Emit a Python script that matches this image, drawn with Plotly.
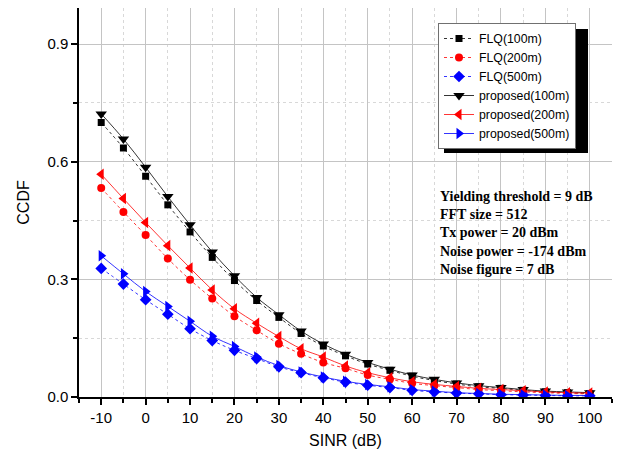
import plotly.graph_objects as go

sinr = [-10, -5, 0, 5, 10, 15, 20, 25, 30, 35, 40, 45, 50, 55, 60, 65, 70, 75, 80, 85, 90, 95, 100]

flq_100 = [0.700, 0.635, 0.563, 0.490, 0.421, 0.356, 0.297, 0.246, 0.203, 0.162, 0.130, 0.105,
           0.084, 0.068, 0.053, 0.042, 0.033, 0.026, 0.022, 0.017, 0.013, 0.011, 0.009]
flq_200 = [0.533, 0.472, 0.413, 0.353, 0.299, 0.251, 0.206, 0.170, 0.136, 0.110, 0.088, 0.073,
           0.056, 0.045, 0.035, 0.029, 0.024, 0.019, 0.016, 0.013, 0.011, 0.009, 0.008]
flq_500 = [0.328, 0.288, 0.248, 0.211, 0.174, 0.144, 0.119, 0.098, 0.077, 0.062, 0.049, 0.038,
           0.030, 0.024, 0.017, 0.013, 0.010, 0.008, 0.006, 0.005, 0.004, 0.003, 0.003]
prop_100 = [0.722, 0.658, 0.586, 0.511, 0.439, 0.370, 0.309, 0.254, 0.210, 0.168, 0.135, 0.109,
            0.088, 0.071, 0.056, 0.045, 0.036, 0.029, 0.024, 0.019, 0.015, 0.013, 0.011]
prop_200 = [0.568, 0.506, 0.445, 0.386, 0.329, 0.273, 0.225, 0.188, 0.154, 0.123, 0.102, 0.079,
            0.062, 0.049, 0.039, 0.032, 0.027, 0.022, 0.019, 0.016, 0.013, 0.011, 0.010]
prop_500 = [0.360, 0.314, 0.269, 0.231, 0.193, 0.155, 0.129, 0.102, 0.080, 0.064, 0.051, 0.040,
            0.032, 0.026, 0.019, 0.015, 0.011, 0.009, 0.007, 0.006, 0.005, 0.004, 0.004]

x_ticks = [-10, 0, 10, 20, 30, 40, 50, 60, 70, 80, 90, 100]
y_ticks = [0.0, 0.3, 0.6, 0.9]

notes = ["Yielding threshold = 9 dB", "FFT size = 512", "Tx power = 20 dBm",
         "Noise power = -174 dBm", "Noise figure = 7 dB"]

series = [
    ("FLQ(100m)", flq_100, "black", "square", 7, "dot"),
    ("FLQ(200m)", flq_200, "#ff0000", "circle", 8, "dot"),
    ("FLQ(500m)", flq_500, "#0000ff", "diamond", 9, "dot"),
    ("proposed(100m)", prop_100, "black", "triangle-down", 10, "solid"),
    ("proposed(200m)", prop_200, "#ff0000", "triangle-left", 10, "solid"),
    ("proposed(500m)", prop_500, "#0000ff", "triangle-right", 10, "solid"),
]

# figure geometry (page is offset 8px by the body margin)
W, H = 613, 453
ML, MR, MT, MB = 71, 9, 0, 64
PW, PH = W - ML - MR, H - MT - MB


def px(xp):  # page x -> paper x
    return (xp - 8 - ML) / PW


def py(yp):  # page y -> paper y
    return 1 - (yp - 8 - MT) / PH


fig = go.Figure()
for name, vals, col, sym, sz, dash in series:
    fig.add_trace(go.Scatter(
        x=sinr, y=vals, name=name, mode="lines+markers",
        line=dict(color=col, width=0.8, dash=dash, shape="spline"),
        marker=dict(symbol=sym, size=sz, color=col),
    ))

fig.add_annotation(
    x=px(438), y=py(187), xref="paper", yref="paper", xanchor="left", yanchor="top",
    text="<br>".join(f"<b>{t}</b>" for t in notes), showarrow=False, align="left",
    font=dict(family="Liberation Serif", size=14, color="black"),
)

# legend shadow
LX0, LY0, LW, LH = 438, 23, 144, 124
fig.add_shape(type="rect", xref="paper", yref="paper",
              x0=px(LX0 + 6), x1=px(LX0 + LW + 6), y0=py(LY0 + LH + 6), y1=py(LY0 + 6),
              fillcolor="black", line=dict(width=0), layer="above")

grid_col = "#c4c4c4"
fig.update_layout(
    width=W, height=H,
    margin=dict(l=ML, r=MR, t=MT, b=MB),
    paper_bgcolor="white", plot_bgcolor="white",
    font=dict(family="Liberation Sans", size=15, color="black"),
    showlegend=True,
    legend=dict(x=px(LX0), y=py(LY0), xanchor="left", yanchor="top",
                bgcolor="white", bordercolor="#707070", borderwidth=1,
                font=dict(family="Liberation Sans", size=12.3), tracegroupgap=0,
                itemwidth=30),
    xaxis=dict(
        range=[-15, 105], tickmode="array", tickvals=x_ticks, ticktext=[str(v) for v in x_ticks],
        showline=True, linecolor="black", linewidth=1.5, mirror=False,
        ticks="outside", ticklen=6, tickwidth=1.5, tickcolor="black",
        showgrid=True, gridcolor=grid_col, gridwidth=1, zeroline=False,
        minor=dict(dtick=5, tick0=0, ticks="outside", ticklen=4, tickwidth=1.5, tickcolor="black",
                   showgrid=True, gridcolor="#d8d8d8", griddash="dot", gridwidth=1),
        title=dict(text="SINR (dB)", font=dict(size=16), standoff=10),
    ),
    yaxis=dict(
        range=[0, 0.992], tickmode="array", tickvals=y_ticks, ticktext=[f"{v:.1f}" for v in y_ticks],
        showline=True, linecolor="black", linewidth=1.5, mirror=False,
        ticks="outside", ticklen=6, tickwidth=1.5, tickcolor="black",
        showgrid=True, gridcolor=grid_col, gridwidth=1, zeroline=False,
        minor=dict(dtick=0.15, tick0=0, ticks="outside", ticklen=4, tickwidth=1.5, tickcolor="black",
                   showgrid=True, gridcolor="#d8d8d8", griddash="dot", gridwidth=1),
        title=dict(text="CCDF", font=dict(size=16), standoff=14),
    ),
)

fig.write_html("out.html")
